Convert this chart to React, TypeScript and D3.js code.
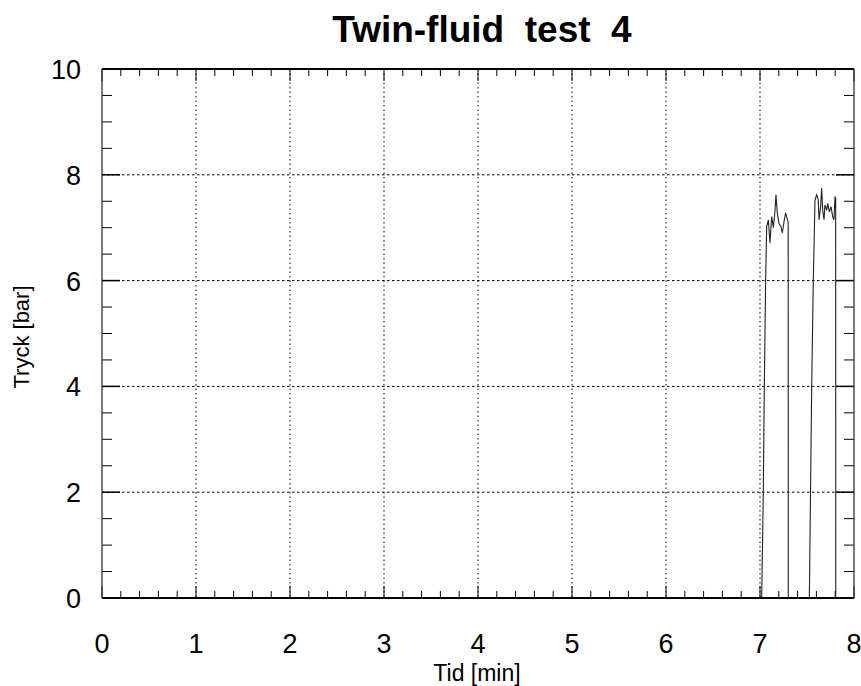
import React from "react";
import * as d3 from "d3";

const TITLE = "Twin-fluid  test  4";
const X_LABEL = "Tid [min]";
const Y_LABEL = "Tryck [bar]";
const xTicks = [0, 1, 2, 3, 4, 5, 6, 7, 8];
const yTicks = [0, 2, 4, 6, 8, 10];

// Time [min]
const timeMin = [
  0, 7.018, 7.035, 7.046, 7.06, 7.071, 7.089, 7.106, 7.124, 7.142, 7.16, 7.17, 7.184, 7.202, 7.223,
  7.237, 7.259, 7.273, 7.287, 7.3, 7.301, 7.525, 7.55, 7.567, 7.585, 7.603, 7.62, 7.628, 7.645,
  7.656, 7.667, 7.681, 7.691, 7.709, 7.72, 7.738, 7.755, 7.773, 7.787, 7.798, 7.805, 7.806, 8,
];
// Pressure [bar]
const pressureBar = [
  0, 0, 2, 4, 6, 7.02, 7.15, 6.71, 7.21, 7.0, 7.33, 7.62, 7.28, 7.08, 7.02,
  6.9, 7.15, 7.28, 7.18, 7.1, 0, 0, 4, 6, 7.52, 7.62, 7.52, 7.15, 7.4,
  7.75, 7.33, 7.15, 7.43, 7.33, 7.46, 7.3, 7.4, 7.21, 7.15, 7.59, 7.55, 0, 0,
];

const W = 861;
const H = 686;
const L = 102;
const R = 854;
const T = 69;
const B = 598;

export default function App() {
  const x = d3.scaleLinear().domain([0, 8]).range([L, R]);
  const y = d3.scaleLinear().domain([0, 10]).range([B, T]);
  const pts: [number, number][] = timeMin.map((t, i) => [t, pressureBar[i]]);
  const line = d3
    .line<[number, number]>()
    .x((d) => x(d[0]))
    .y((d) => y(d[1]));

  const xMinor = d3.range(0, 8.0001, 0.2).filter((v) => Math.abs(v - Math.round(v)) > 1e-6);
  const yMinor = d3.range(0, 10.0001, 0.5).filter((v) => Math.abs(v / 2 - Math.round(v / 2)) > 1e-6);

  const font = "'Liberation Sans', Arial, Helvetica, sans-serif";

  return (
    <svg
      width={W}
      height={H}
      style={{ position: "absolute", left: 0, top: 0, background: "#fff" }}
      fontFamily={font}
    >
      <rect x={0} y={0} width={W} height={H} fill="#fff" />
      {/* title */}
      <text
        x={482}
        y={42}
        textAnchor="middle"
        fontSize={37}
        fontWeight="bold"
        style={{ whiteSpace: "pre" }}
        fill="#000"
      >
        {TITLE}
      </text>

      {/* grid */}
      {xTicks
        .filter((v) => v > 0 && v < 8)
        .map((v) => (
          <line
            key={"gx" + v}
            x1={x(v)}
            x2={x(v)}
            y1={T}
            y2={B}
            stroke="#000"
            strokeWidth={1}
            strokeDasharray="1.5,3"
          />
        ))}
      {yTicks
        .filter((v) => v > 0 && v < 10)
        .map((v) => (
          <line
            key={"gy" + v}
            x1={L}
            x2={R}
            y1={y(v)}
            y2={y(v)}
            stroke="#000"
            strokeWidth={1}
            strokeDasharray="2.5,2.5"
          />
        ))}

      {/* minor ticks */}
      {xMinor.map((v) => (
        <g key={"mx" + v}>
          <line x1={x(v)} x2={x(v)} y1={B} y2={B - 7} stroke="#000" strokeWidth={1} />
          <line x1={x(v)} x2={x(v)} y1={T} y2={T + 7} stroke="#000" strokeWidth={1} />
        </g>
      ))}
      {xTicks.map((v) => (
        <g key={"Mx" + v}>
          <line x1={x(v)} x2={x(v)} y1={B} y2={B - 12} stroke="#000" strokeWidth={1} />
          <line x1={x(v)} x2={x(v)} y1={T} y2={T + 12} stroke="#000" strokeWidth={1} />
        </g>
      ))}
      {yMinor.map((v) => (
        <g key={"my" + v}>
          <line x1={L} x2={L + 10} y1={y(v)} y2={y(v)} stroke="#000" strokeWidth={1} />
          <line x1={R} x2={R - 10} y1={y(v)} y2={y(v)} stroke="#000" strokeWidth={1} />
        </g>
      ))}
      {yTicks.map((v) => (
        <g key={"My" + v}>
          <line x1={L} x2={L + 18} y1={y(v)} y2={y(v)} stroke="#000" strokeWidth={1.5} />
          <line x1={R} x2={R - 18} y1={y(v)} y2={y(v)} stroke="#000" strokeWidth={1.5} />
        </g>
      ))}

      {/* data */}
      <path d={line(pts) || ""} fill="none" stroke="#222" strokeWidth={1.1} />

      {/* frame */}
      <line x1={L} x2={R} y1={T} y2={T} stroke="#000" strokeWidth={2} />
      <line x1={L} x2={R} y1={B} y2={B} stroke="#000" strokeWidth={2} />
      <line x1={L} x2={L} y1={T} y2={B} stroke="#333" strokeWidth={1.3} />
      <line x1={R} x2={R} y1={T} y2={B} stroke="#333" strokeWidth={1.3} />

      {/* tick labels */}
      {xTicks.map((v) => (
        <text key={"tx" + v} x={x(v)} y={653} textAnchor="middle" fontSize={27} fill="#000">
          {v}
        </text>
      ))}
      {yTicks.map((v) => (
        <text key={"ty" + v} x={81} y={y(v) + 10} textAnchor="end" fontSize={27} fill="#000">
          {v}
        </text>
      ))}

      {/* axis labels */}
      <text x={477} y={681} textAnchor="middle" fontSize={23} fill="#000">
        {X_LABEL}
      </text>
      <text
        transform={`translate(29,337) rotate(-90)`}
        textAnchor="middle"
        fontSize={22}
        fill="#000"
      >
        {Y_LABEL}
      </text>
    </svg>
  );
}
